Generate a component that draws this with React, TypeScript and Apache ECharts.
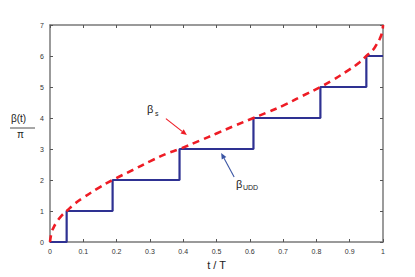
import React, { useEffect, useRef } from "react";
import * as echarts from "echarts";

const xTicks = [0, 0.1, 0.2, 0.3, 0.4, 0.5, 0.6, 0.7, 0.8, 0.9, 1];
const yTicks = [0, 1, 2, 3, 4, 5, 6, 7];

// UDD pulse times (switching instants) and levels of beta_UDD / pi
const uddTimes = [0, 0.05, 0.188, 0.389, 0.611, 0.812, 0.95, 1];
const uddLevels = [0, 1, 2, 3, 4, 5, 6, 6];

// beta_s / pi continuous curve
const sT = [0, 0.005, 0.01, 0.02, 0.035, 0.05, 0.075, 0.1, 0.15, 0.188, 0.25, 0.3, 0.35, 0.389, 0.45, 0.5, 0.55, 0.611, 0.65, 0.7, 0.75, 0.812, 0.85, 0.9, 0.93, 0.95, 0.97, 0.98, 0.99, 0.997, 1];
const sV = [0, 0.32, 0.45, 0.64, 0.85, 1.0, 1.24, 1.43, 1.77, 2.0, 2.33, 2.6, 2.85, 3.0, 3.27, 3.5, 3.73, 4.0, 4.17, 4.4, 4.67, 5.0, 5.23, 5.57, 5.8, 6.0, 6.2, 6.36, 6.55, 6.75, 7.0];

// annotation arrows in data coordinates [from, to]
const sArrow = [[0.348, 3.98], [0.411, 3.45]];
const uddArrow = [[0.553, 2.1], [0.514, 2.87]];

const FONT = "Liberation Sans";

function arrow(p0: number[], p1: number[], color: string) {
  const dx = p1[0] - p0[0];
  const dy = p1[1] - p0[1];
  const len = Math.sqrt(dx * dx + dy * dy) || 1;
  const ux = dx / len;
  const uy = dy / len;
  const hl = 6;
  const hw = 2.6;
  const bx = p1[0] - ux * hl;
  const by = p1[1] - uy * hl;
  return [
    {
      type: "line",
      silent: true,
      shape: { x1: p0[0], y1: p0[1], x2: bx, y2: by },
      style: { stroke: color, lineWidth: 1.1 },
      z: 10,
    },
    {
      type: "polygon",
      silent: true,
      shape: {
        points: [
          [p1[0], p1[1]],
          [bx - uy * hw, by + ux * hw],
          [bx + uy * hw, by - ux * hw],
        ],
      },
      style: { fill: color },
      z: 10,
    },
  ];
}

export default function App() {
  const ref = useRef<HTMLDivElement>(null);
  useEffect(() => {
    const chart = echarts.init(ref.current!, null, { renderer: "svg" });
    const axisLine = { show: true, onZero: false, lineStyle: { color: "#7a7a7a", width: 1.5 } };
    const axisTick = { show: true, inside: true, length: 3, lineStyle: { color: "#555", width: 1 } };
    const xBase = { type: "value", min: 0, max: 1, interval: 0.1, splitLine: { show: false }, axisLine, axisTick };
    const yBase = { type: "value", min: 0, max: 7, interval: 1, splitLine: { show: false }, axisLine, axisTick };
    const texts: any[] = [
      {
        type: "text",
        left: 11,
        top: 113,
        style: { text: "β(t)", font: `10px "${FONT}"`, fill: "#222" },
      },
      {
        type: "line",
        shape: { x1: 10, y1: 128, x2: 35, y2: 128 },
        style: { stroke: "#222", lineWidth: 0.8 },
      },
      {
        type: "text",
        left: 17,
        top: 129,
        style: { text: "π", font: `10px "${FONT}"`, fill: "#222" },
      },
      {
        type: "text",
        left: 147,
        top: 103,
        style: { text: "β", font: `11px "${FONT}"`, fill: "#222" },
      },
      {
        type: "text",
        left: 155,
        top: 110,
        style: { text: "s", font: `7px "${FONT}"`, fill: "#222" },
      },
      {
        type: "text",
        left: 236,
        top: 178,
        style: { text: "β", font: `11px "${FONT}"`, fill: "#222" },
      },
      {
        type: "text",
        left: 243,
        top: 184,
        style: { text: "UDD", font: `7px "${FONT}"`, fill: "#222" },
      },
    ];
    chart.setOption({
      animation: false,
      backgroundColor: "#ffffff",
      grid: { left: 50, right: 32, top: 25, bottom: 35 },
      xAxis: [
        {
          ...xBase,
          position: "bottom",
          name: "t / T",
          nameLocation: "middle",
          nameGap: 17,
          nameTextStyle: { fontFamily: FONT, fontSize: 11, color: "#222" },
          axisLabel: {
            fontFamily: FONT,
            fontSize: 7,
            color: "#333",
            margin: 6,
            formatter: (v: number) => (xTicks.includes(Math.round(v * 10) / 10) ? String(Math.round(v * 10) / 10) : ""),
          },
        },
        { ...xBase, position: "top", axisLabel: { show: false } },
      ],
      yAxis: [
        {
          ...yBase,
          position: "left",
          axisLabel: {
            fontFamily: FONT,
            fontSize: 7,
            color: "#333",
            margin: 6,
            formatter: (v: number) => (yTicks.includes(v) ? String(v) : ""),
          },
        },
        { ...yBase, position: "right", axisLabel: { show: false } },
      ],
      series: [
        {
          type: "line",
          step: "end",
          data: uddTimes.map((t, i) => [t, uddLevels[i]]),
          symbol: "none",
          lineStyle: { color: "#2e3192", width: 2.2 },
          z: 3,
        },
        {
          type: "line",
          data: sT.map((t, i) => [t, sV[i]]),
          symbol: "none",
          smooth: true,
          lineStyle: { color: "#ee1c25", width: 2.6, type: [7, 5] },
          z: 4,
        },
      ],
      graphic: texts,
    });
    const px = (p: number[]) => chart.convertToPixel({ xAxisIndex: 0, yAxisIndex: 0 }, p) as number[];
    const arrows = [
      ...arrow(px(sArrow[0]), px(sArrow[1]), "#ee1c25"),
      ...arrow(px(uddArrow[0]), px(uddArrow[1]), "#3a55a4"),
    ];
    chart.setOption({ graphic: [...texts, ...arrows] });
    return () => chart.dispose();
  }, []);
  return (
    <div
      ref={ref}
      style={{ position: "absolute", left: 0, top: 0, width: 415, height: 277, background: "#fff" }}
    />
  );
}
